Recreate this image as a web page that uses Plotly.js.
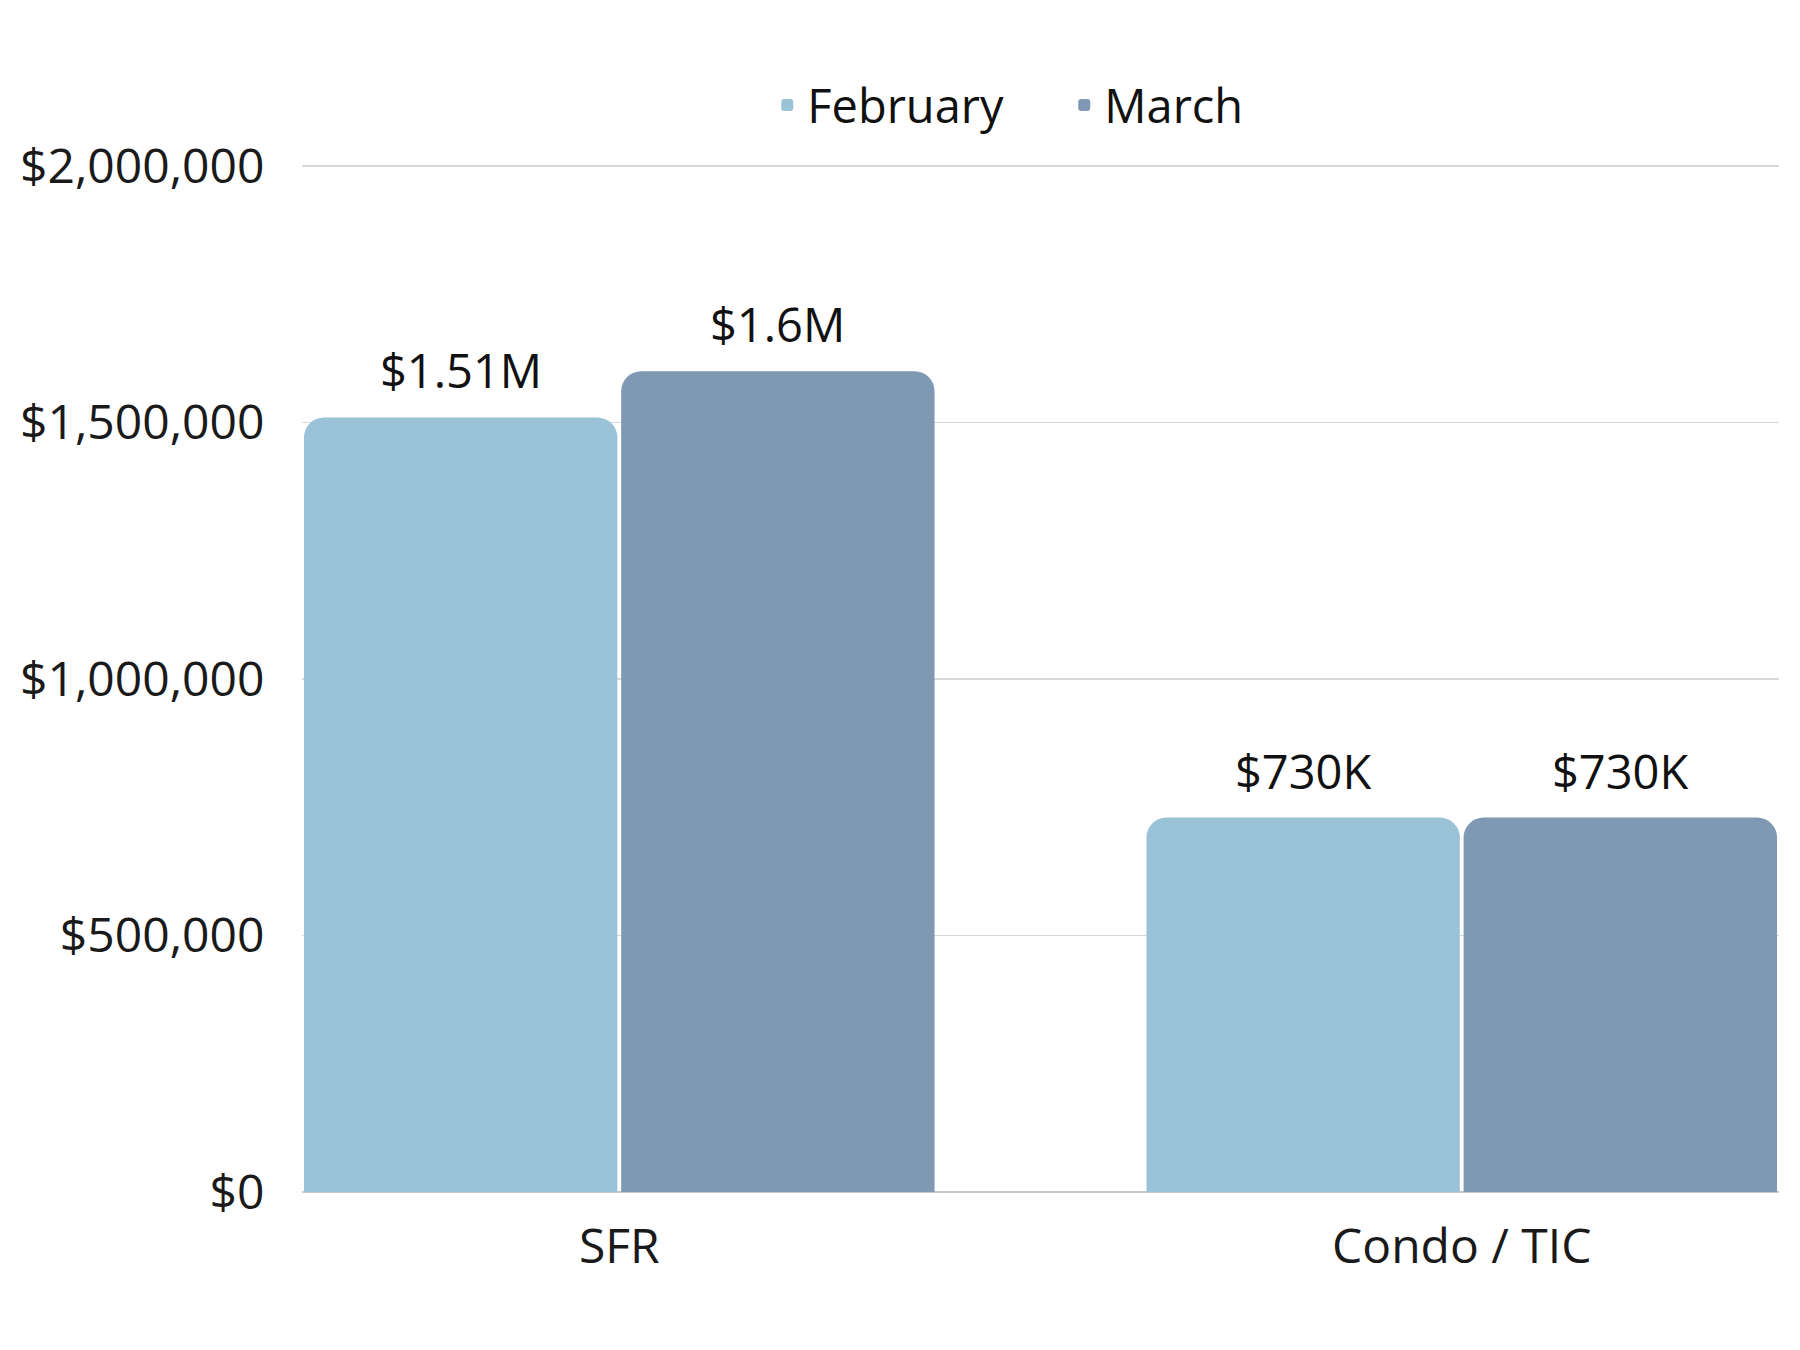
<!DOCTYPE html>
<html>
<head>
<meta charset="utf-8">
<script src="https://cdn.plot.ly/plotly-3.0.1.min.js"></script>
<style>html,body{margin:0;padding:0;background:#fff;}#chart{width:1800px;height:1350px;}</style>
</head>
<body>
<div id="chart"></div>
<script>
const categories = ["SFR", "Condo / TIC"];
const februaryValues = [1510000, 730000];
const marchValues = [1600000, 730000];
const februaryLabels = ["$1.51M", "$730K"];
const marchLabels = ["$1.6M", "$730K"];
const yTickValues = [0, 500000, 1000000, 1500000, 2000000];
const yTickLabels = ["$0", "$500,000", "$1,000,000", "$1,500,000", "$2,000,000"];

const FONT = "Open Sans, Noto Sans, sans-serif";
const BARGAP = 0.247;
const BARGROUPGAP = 0.012;

const traces = [
  {
    type: "bar", name: "February", x: categories, y: februaryValues,
    marker: {color: "#9BC3D8", cornerradius: 20},
    hoverinfo: "skip"
  },
  {
    type: "bar", name: "March", x: categories, y: marchValues,
    marker: {color: "#7F98B4", cornerradius: 20},
    hoverinfo: "skip"
  }
];

// value labels placed above each bar, positioned through the axis scales
const barOffset = (1 - BARGAP) / 4;
const annotations = [];
[[februaryValues, februaryLabels, -1], [marchValues, marchLabels, 1]].forEach(([vals, labels, side]) => {
  vals.forEach((v, i) => {
    annotations.push({
      xref: "x", yref: "y", x: i + side * barOffset, y: v,
      text: labels[i], showarrow: false, yanchor: "middle", yshift: 47,
      font: {family: FONT, size: 47, color: "#111", weight: 500}
    });
  });
});

const layout = {
  width: 1800, height: 1350,
  paper_bgcolor: "#fff", plot_bgcolor: "#fff",
  margin: {l: 302, r: 21, t: 165, b: 158},
  font: {family: FONT, size: 48, color: "#1a1a1a"},
  barmode: "group", bargap: BARGAP, bargroupgap: BARGROUPGAP,
  showlegend: true,
  legend: {orientation: "h", x: 0.315, xanchor: "left", y: 1.058, yanchor: "middle",
           entrywidth: 252, entrywidthmode: "pixels",
           font: {family: FONT, size: 47, color: "#111"}, itemclick: false},
  annotations: annotations,
  xaxis: {
    type: "category", range: [-0.3766, 1.3766],
    showgrid: false, zeroline: false, showline: false,
    ticks: "outside", ticklen: 12, tickcolor: "rgba(0,0,0,0)",
    tickfont: {family: FONT, size: 48, color: "#1a1a1a"}
  },
  yaxis: {
    range: [0, 2002000], tickvals: yTickValues, ticktext: yTickLabels,
    showgrid: true, gridcolor: "#d6d9dc", gridwidth: 1.5,
    zeroline: true, zerolinecolor: "#c8c8c8", zerolinewidth: 1.5,
    showline: false, ticks: "outside", ticklen: 27, tickcolor: "rgba(0,0,0,0)",
    tickfont: {family: FONT, size: 48, color: "#1a1a1a"}
  }
};

Plotly.newPlot("chart", traces, layout, {staticPlot: true, displayModeBar: false});
</script>
</body>
</html>
